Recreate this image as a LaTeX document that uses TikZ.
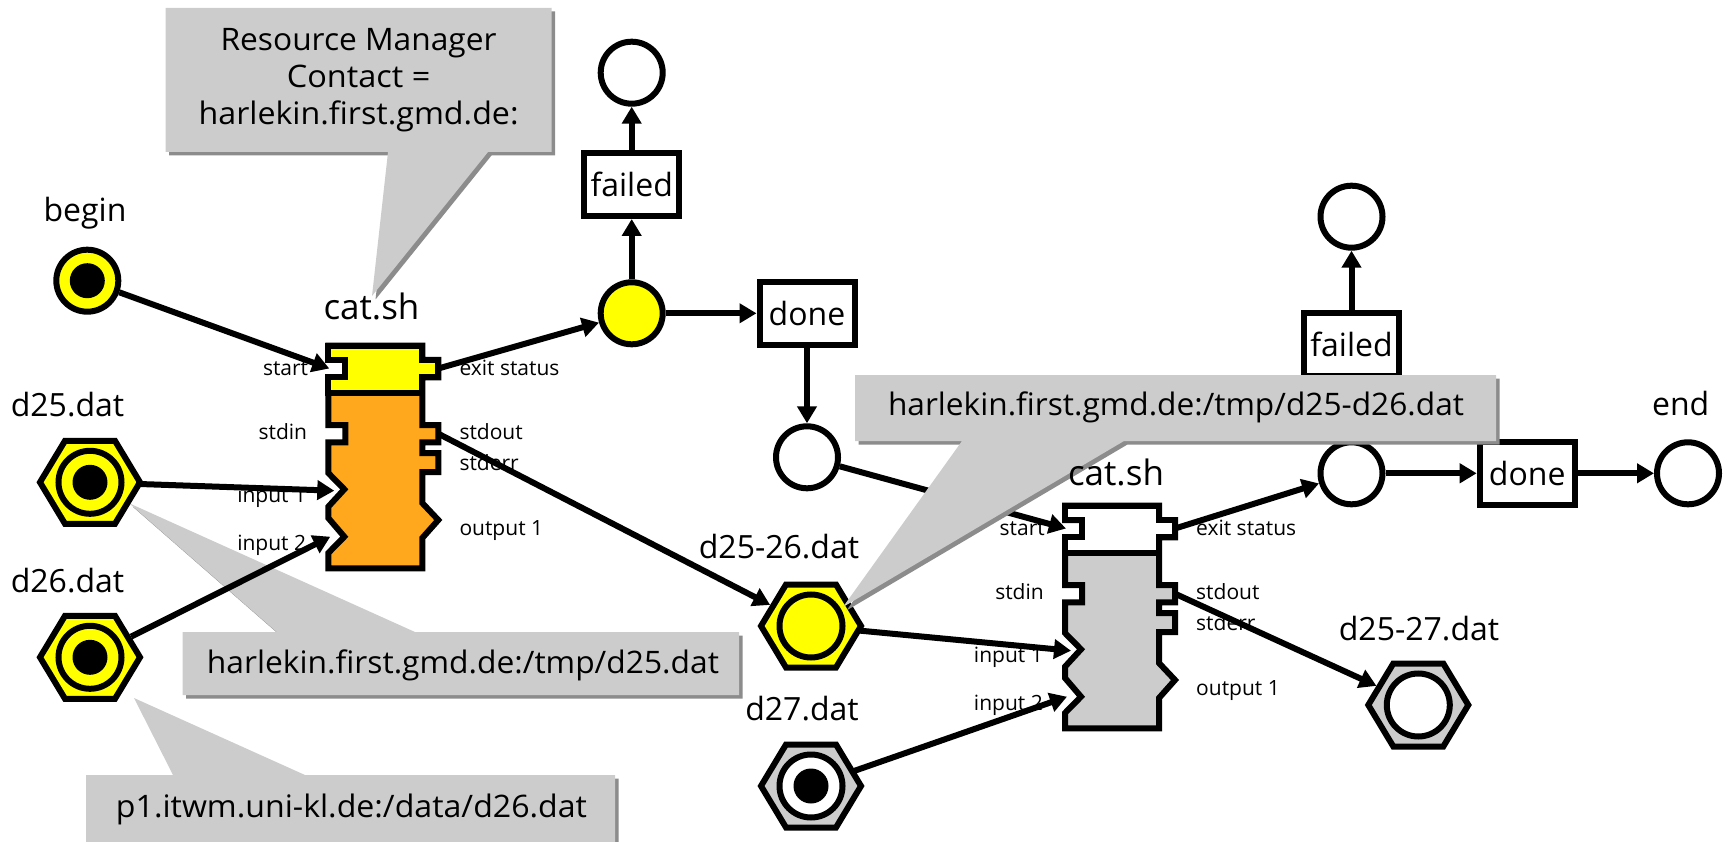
\documentclass[tikz,border=0pt]{standalone}
\usepackage{fontspec}
\setmainfont{Open Sans}
\usepackage{graphicx}
\usetikzlibrary{arrows.meta}
\pgfdeclarelayer{front}
\pgfsetlayers{main,front}

\definecolor{hiyel}{RGB}{255,255,0}
\definecolor{jobor}{RGB}{255,168,30}
\definecolor{lgray}{RGB}{204,204,204}
\definecolor{shgray}{RGB}{140,140,140}

\newcommand\bigtxt{\fontsize{32pt}{38pt}\selectfont}
\newcommand\jobtxt{\fontsize{35pt}{42pt}\selectfont}
\newcommand\smalltxt{\fontsize{21pt}{25pt}\selectfont}
\newcommand\calltxt{\fontsize{31pt}{36pt}\selectfont}

\tikzset{
  place/.style={circle, draw, line width=6pt, minimum size=62pt, inner sep=0pt, fill=white},
  trans/.style={rectangle, draw, line width=6pt, minimum width=95pt, minimum height=63pt,
                inner sep=0pt, fill=white, font=\bigtxt},
  hexspot/.style={circle, minimum size=92pt, inner sep=0pt, outer sep=0pt},
  ring/.style={circle, draw, line width=6pt, minimum size=63pt, inner sep=0pt},
  dot/.style={circle, fill=black, minimum size=35pt, inner sep=0pt},
  arr/.style={line width=6pt, -{Triangle[length=17pt,width=19pt]}},
  lbl/.style={font=\bigtxt, inner sep=0pt, anchor=base},
  joblbl/.style={font=\jobtxt, inner sep=0pt, anchor=base},
  port/.style={font=\smalltxt, inner sep=0pt},
  ctext/.style={font=\calltxt, inner sep=0pt, anchor=base},
  calloutbody/.style={fill=lgray},
  calloutshadow/.style={fill=shgray, shift={(3.5,3.5)}},
  % flat-topped hexagon of a data item
  pics/hexbody/.style={code={
    \draw[line width=6pt, fill=#1]
      (50,0) -- (25,41.5) -- (-25,41.5) -- (-50,0) -- (-25,-41.5) -- (25,-41.5) -- cycle;
  }},
  % job block: #1 fill of the control part, #2 fill of the data part
  pics/catblock/.style 2 args={code={
    \draw[line width=6pt, fill=#2]
      (0,0) -- (0,14.3) -- (17,14.3) -- (17,31.6) -- (0,31.6)
      -- (0,79.3) -- (17,79.3) -- (17,96.6) -- (0,96.6)
      -- (0,127.3) -- (16,143.6) -- (0,161)
      -- (0,172.3) -- (16,191) -- (0,207.3)
      -- (0,222.6) -- (94,222.6)
      -- (94,192.3) -- (110,174.3) -- (94,157.3)
      -- (94,126.3) -- (110,126.3) -- (110,107.3) -- (94,107.3)
      -- (94,96.6) -- (110,96.6) -- (110,79.3) -- (94,79.3)
      -- (94,31.6) -- (110,31.6) -- (110,14.3) -- (94,14.3)
      -- (94,0) -- cycle;
    \draw[line width=6pt, fill=#1]
      (0,0) -- (0,14.3) -- (17,14.3) -- (17,31.6) -- (0,31.6)
      -- (0,47.6) -- (94,47.6)
      -- (94,31.6) -- (110,31.6) -- (110,14.3) -- (94,14.3)
      -- (94,0) -- cycle;
    \coordinate (-start) at (1,22.8);
    \coordinate (-in1) at (6,145);
    \coordinate (-in2) at (2,191);
    \coordinate (-exit) at (110,22.8);
    \coordinate (-stdout) at (110,88);
    \begin{pgfonlayer}{front}
      \node[port, anchor=base east] (-lstart) at (-20,29.3) {start};
      \node[port, anchor=base east] (-lstdin) at (-21,93.6) {stdin};
      \node[port, anchor=base east] (-lin1) at (-22,157) {input 1};
      \node[port, anchor=base east] (-lin2) at (-22,205) {input 2};
      \node[port, anchor=base west] (-lexit) at (131,29.3) {exit status};
      \node[port, anchor=base west] (-lstdout) at (131,93.6) {stdout};
      \node[port, anchor=base west] (-lstderr) at (131,125) {stderr};
      \node[port, anchor=base west] (-lout1) at (131,189.3) {output 1};
    \end{pgfonlayer}
  }},
}

\begin{document}
\begin{tikzpicture}[x=1pt,y=-1pt]
\useasboundingbox (0,0) rectangle (1730,842);

% callouts lying under the net
\fill[calloutshadow] (165.5,8) -- (551.7,8) -- (551.7,152) -- (488,152) -- (372,296)
  -- (388,152) -- (165.5,152) -- cycle;
\fill[calloutbody] (165.5,8) -- (551.7,8) -- (551.7,152) -- (488,152) -- (372,296)
  -- (388,152) -- (165.5,152) -- cycle;
\node[ctext] (rm1) at (358.6,50.5) {\resizebox{276pt}{\height}{Resource Manager}};
\node[ctext] (rm2) at (358.6,87.5) {\resizebox{143.5pt}{\height}{Contact =}};
\node[ctext] (rm3) at (358.6,125) {\resizebox{320pt}{\height}{harlekin.first.gmd.de:}};

\fill[calloutshadow] (182.7,632) -- (276.7,632) -- (129.3,503.3) -- (415,632) -- (739,632)
  -- (739,695) -- (182.7,695) -- cycle;
\fill[calloutbody] (182.7,632) -- (276.7,632) -- (129.3,503.3) -- (415,632) -- (739,632)
  -- (739,695) -- (182.7,695) -- cycle;
\node[ctext] (loc25) at (463,673.5) {\resizebox{512pt}{\height}{harlekin.first.gmd.de:/tmp/d25.dat}};

\fill[calloutshadow] (86,775) -- (173,775) -- (134,698) -- (305,775) -- (615,775)
  -- (615,850) -- (86,850) -- cycle;
\fill[calloutbody] (86,775) -- (173,775) -- (134,698) -- (305,775) -- (615,775)
  -- (615,850) -- (86,850) -- cycle;
\node[ctext] (loc26) at (351.5,817) {\resizebox{471pt}{\height}{p1.itwm.uni-kl.de:/data/d26.dat}};

% input data and start token
\node[place, fill=hiyel] (beginp) at (87.3,280.7) {};
\node[dot] (begind) at (beginp.center) {};

\node[hexspot] (d25) at (90,482.3) {};
\pic at (d25.center) {hexbody=hiyel};
\node[ring, fill=hiyel] (d25r) at (d25.center) {};
\node[dot] (d25d) at (d25.center) {};

\node[hexspot] (d26) at (90,657.3) {};
\pic at (d26.center) {hexbody=hiyel};
\node[ring, fill=hiyel] (d26r) at (d26.center) {};
\node[dot] (d26d) at (d26.center) {};

% the two cat.sh jobs
\pic (b1) at (328.3,345.7) {catblock={hiyel}{jobor}};
\pic (b2) at (1065,505.7) {catblock={white}{lgray}};

% places and transitions of the first job
\node[place] (topc1) at (631.7,72.7) {};
\node[trans] (fail1) at (631.7,184.5) {failed};
\node[place, fill=hiyel] (yel) at (631.7,313.3) {};
\node[trans] (done1) at (807,313.3) {done};
\node[place] (lowc) at (807,457.3) {};

% intermediate and further data
\node[hexspot] (d2526) at (811,626) {};
\pic at (d2526.center) {hexbody=hiyel};
\node[ring, fill=hiyel] (d2526r) at (d2526.center) {};

\node[hexspot] (d27) at (811,786) {};
\pic at (d27.center) {hexbody=lgray};
\node[ring, fill=white] (d27r) at (d27.center) {};
\node[dot] (d27d) at (d27.center) {};

\node[hexspot] (d2527) at (1418.3,705) {};
\pic at (d2527.center) {hexbody=lgray};
\node[ring, fill=white] (d2527r) at (d2527.center) {};

% places and transitions of the second job
\node[place] (topc2) at (1351.5,216.7) {};
\node[trans] (fail2) at (1351.5,344.5) {failed};
\node[place] (c2) at (1351.5,473.3) {};
\node[trans] (done2) at (1527.2,473.3) {done};
\node[place] (endc) at (1688,473.3) {};

% connectors
\draw[arr] (beginp) -- (b1-start);
\draw[arr] (d25) -- (b1-in1);
\draw[arr] (d26) -- (b1-in2);
\draw[arr] (b1-exit) -- (yel);
\draw[arr] (yel) -- (fail1);
\draw[arr] (fail1) -- (topc1);
\draw[arr] (yel) -- (done1);
\draw[arr] (done1) -- (lowc);
\draw[arr] (b1-stdout) -- (d2526);
\draw[arr] (lowc) -- (b2-start);
\draw[arr] (d2526) -- (b2-in1);
\draw[arr] (d27) -- (b2-in2);
\draw[arr] (b2-exit) -- (c2);
\draw[arr] (c2) -- (fail2);
\draw[arr] (fail2) -- (topc2);
\draw[arr] (c2) -- (done2);
\draw[arr] (done2) -- (endc);
\draw[arr] (b2-stdout) -- (d2527);

% callout on top of the net
\fill[calloutshadow] (855,375) -- (1496,375) -- (1496,441) -- (1124,441) -- (843,607)
  -- (962,441) -- (855,441) -- cycle;
\fill[calloutbody] (855,375) -- (1496,375) -- (1496,441) -- (1124,441) -- (843,607)
  -- (962,441) -- (855,441) -- cycle;
\node[ctext] (loc2526) at (1176,416) {\resizebox{576pt}{\height}{harlekin.first.gmd.de:/tmp/d25-d26.dat}};

% names
\begin{pgfonlayer}{front}
\node[lbl] (lbegin) at (85,222) {begin};
\node[lbl] (ld25) at (67.5,416.7) {d25.dat};
\node[lbl] (ld26) at (67.5,592.7) {d26.dat};
\node[joblbl] (lcat1) at (371.5,320) {cat.sh};
\node[joblbl] (lcat2) at (1116,485) {cat.sh};
\node[lbl] (ld2526) at (779,558) {d25-26.dat};
\node[lbl] (ld27) at (802,720) {d27.dat};
\node[lbl] (ld2527) at (1419,640) {d25-27.dat};
\node[lbl] (lend) at (1680.7,415) {end};
\end{pgfonlayer}
\end{tikzpicture}
\end{document}
